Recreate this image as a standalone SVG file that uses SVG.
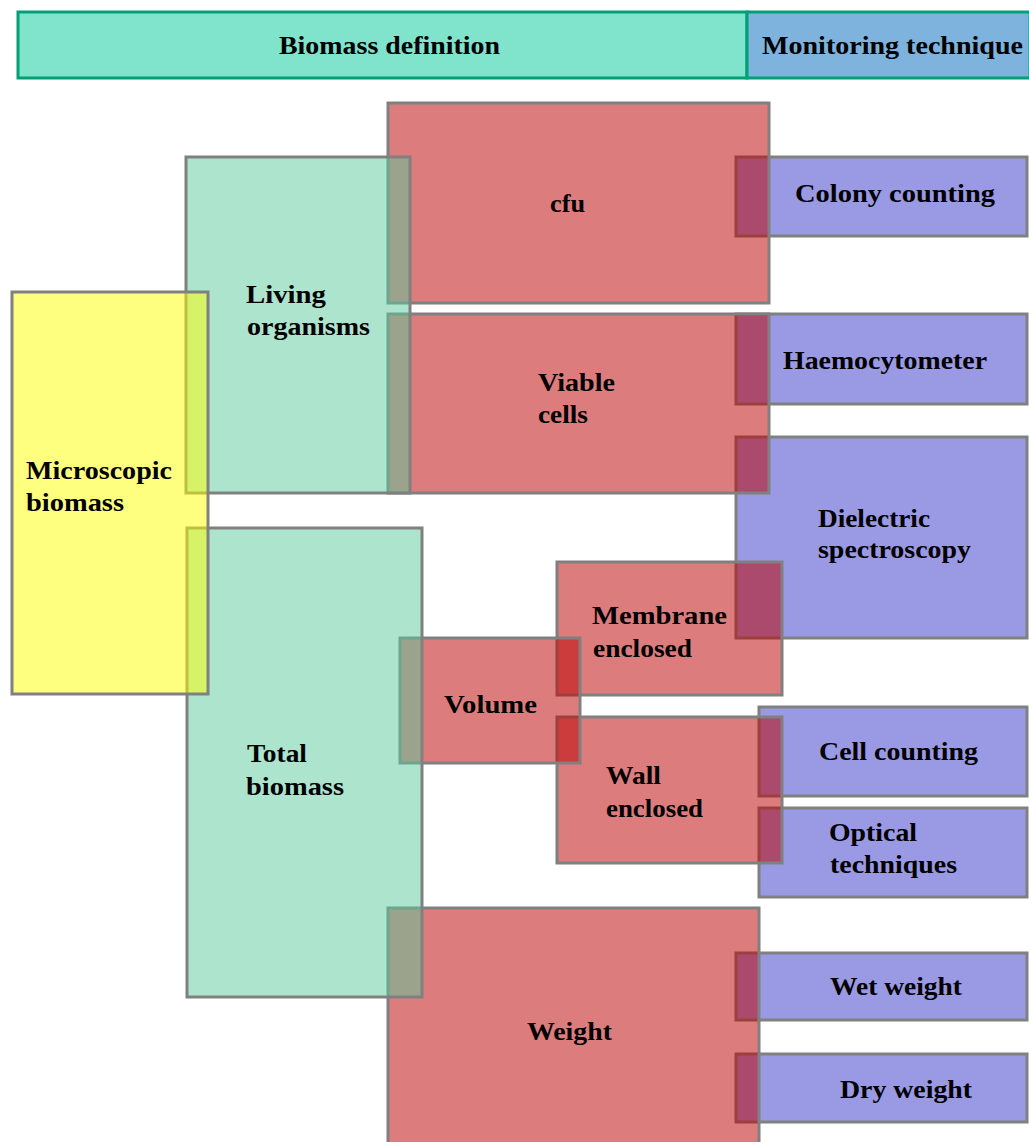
<svg xmlns="http://www.w3.org/2000/svg" width="1029" height="1142" viewBox="0 0 1029 1142">
<style>
.hdr{stroke:#00A077;stroke-width:3}
.box{stroke:#808080;stroke-width:3}
.yel{fill:rgb(255,255,0);fill-opacity:0.5}
.teal{fill:rgb(91,201,157);fill-opacity:0.5}
.red{fill:rgb(189,0,0);fill-opacity:0.515}
.pur{fill:#9A99E3}
text{font-family:"Liberation Serif","Times New Roman",serif;font-weight:bold;font-size:25px;fill:#000}
</style>
<rect width="1029" height="1142" fill="#FFFFFF"/>
<g id="header">
<rect class="hdr" x="18" y="12" width="729" height="66" fill="#80E3CC"/>
<rect class="hdr" x="747" y="12" width="283" height="66" fill="#7DB3DC"/>
<text x="279" y="54" textLength="221" lengthAdjust="spacingAndGlyphs">Biomass definition</text>
<text x="762" y="54" textLength="261" lengthAdjust="spacingAndGlyphs">Monitoring technique</text>
</g>
<g id="colony-counting">
<rect class="box pur" x="736" y="157" width="291" height="79"/>
<text x="795" y="202" textLength="200" lengthAdjust="spacingAndGlyphs">Colony counting</text>
</g>
<g id="haemocytometer">
<rect class="box pur" x="736" y="314" width="291" height="90"/>
<text x="783" y="369" textLength="204" lengthAdjust="spacingAndGlyphs">Haemocytometer</text>
</g>
<g id="dielectric-spectroscopy">
<rect class="box pur" x="736" y="437" width="291" height="201"/>
<text x="818" y="527" textLength="112" lengthAdjust="spacingAndGlyphs">Dielectric</text>
<text x="818" y="558" textLength="153" lengthAdjust="spacingAndGlyphs">spectroscopy</text>
</g>
<g id="cell-counting">
<rect class="box pur" x="759" y="707" width="268" height="89"/>
<text x="819" y="760" textLength="159" lengthAdjust="spacingAndGlyphs">Cell counting</text>
</g>
<g id="optical-techniques">
<rect class="box pur" x="759" y="808" width="268" height="89"/>
<text x="829" y="841" textLength="88" lengthAdjust="spacingAndGlyphs">Optical</text>
<text x="830" y="873" textLength="127" lengthAdjust="spacingAndGlyphs">techniques</text>
</g>
<g id="wet-weight">
<rect class="box pur" x="736" y="953" width="291" height="67"/>
<text x="830" y="995" textLength="132" lengthAdjust="spacingAndGlyphs">Wet weight</text>
</g>
<g id="dry-weight">
<rect class="box pur" x="736" y="1054" width="291" height="68"/>
<text x="840" y="1098" textLength="132" lengthAdjust="spacingAndGlyphs">Dry weight</text>
</g>
<g id="membrane-enclosed">
<rect class="box red" x="557" y="562" width="225" height="133"/>
<text x="592" y="624" textLength="135" lengthAdjust="spacingAndGlyphs">Membrane</text>
<text x="593" y="657" textLength="99" lengthAdjust="spacingAndGlyphs">enclosed</text>
</g>
<g id="wall-enclosed">
<rect class="box red" x="557" y="717" width="225" height="146"/>
<text x="606" y="784" textLength="55" lengthAdjust="spacingAndGlyphs">Wall</text>
<text x="606" y="817" textLength="97" lengthAdjust="spacingAndGlyphs">enclosed</text>
</g>
<g id="volume">
<rect class="box red" x="400" y="638" width="180" height="125"/>
<text x="444" y="713" textLength="93" lengthAdjust="spacingAndGlyphs">Volume</text>
</g>
<g id="weight">
<rect class="box red" x="388" y="908" width="371" height="245"/>
<text x="527" y="1040" textLength="85" lengthAdjust="spacingAndGlyphs">Weight</text>
</g>
<g id="cfu">
<rect class="box red" x="388" y="103" width="381" height="200"/>
<text x="550" y="212" textLength="35" lengthAdjust="spacingAndGlyphs">cfu</text>
</g>
<g id="viable-cells">
<rect class="box red" x="388" y="314" width="381" height="179"/>
<text x="538" y="391" textLength="77" lengthAdjust="spacingAndGlyphs">Viable</text>
<text x="538" y="423" textLength="50" lengthAdjust="spacingAndGlyphs">cells</text>
</g>
<g id="living-organisms">
<rect class="box teal" x="186" y="157" width="224" height="336"/>
<text x="246" y="303" textLength="80" lengthAdjust="spacingAndGlyphs">Living</text>
<text x="247" y="335" textLength="123" lengthAdjust="spacingAndGlyphs">organisms</text>
</g>
<g id="total-biomass">
<rect class="box teal" x="187" y="528" width="235" height="469"/>
<text x="247" y="762" textLength="60" lengthAdjust="spacingAndGlyphs">Total</text>
<text x="246" y="795" textLength="98" lengthAdjust="spacingAndGlyphs">biomass</text>
</g>
<g id="microscopic-biomass">
<rect class="box yel" x="12" y="292" width="196" height="402"/>
<text x="26" y="479" textLength="146" lengthAdjust="spacingAndGlyphs">Microscopic</text>
<text x="26" y="511" textLength="98" lengthAdjust="spacingAndGlyphs">biomass</text>
</g>
<g id="connectors"></g>
</svg>
